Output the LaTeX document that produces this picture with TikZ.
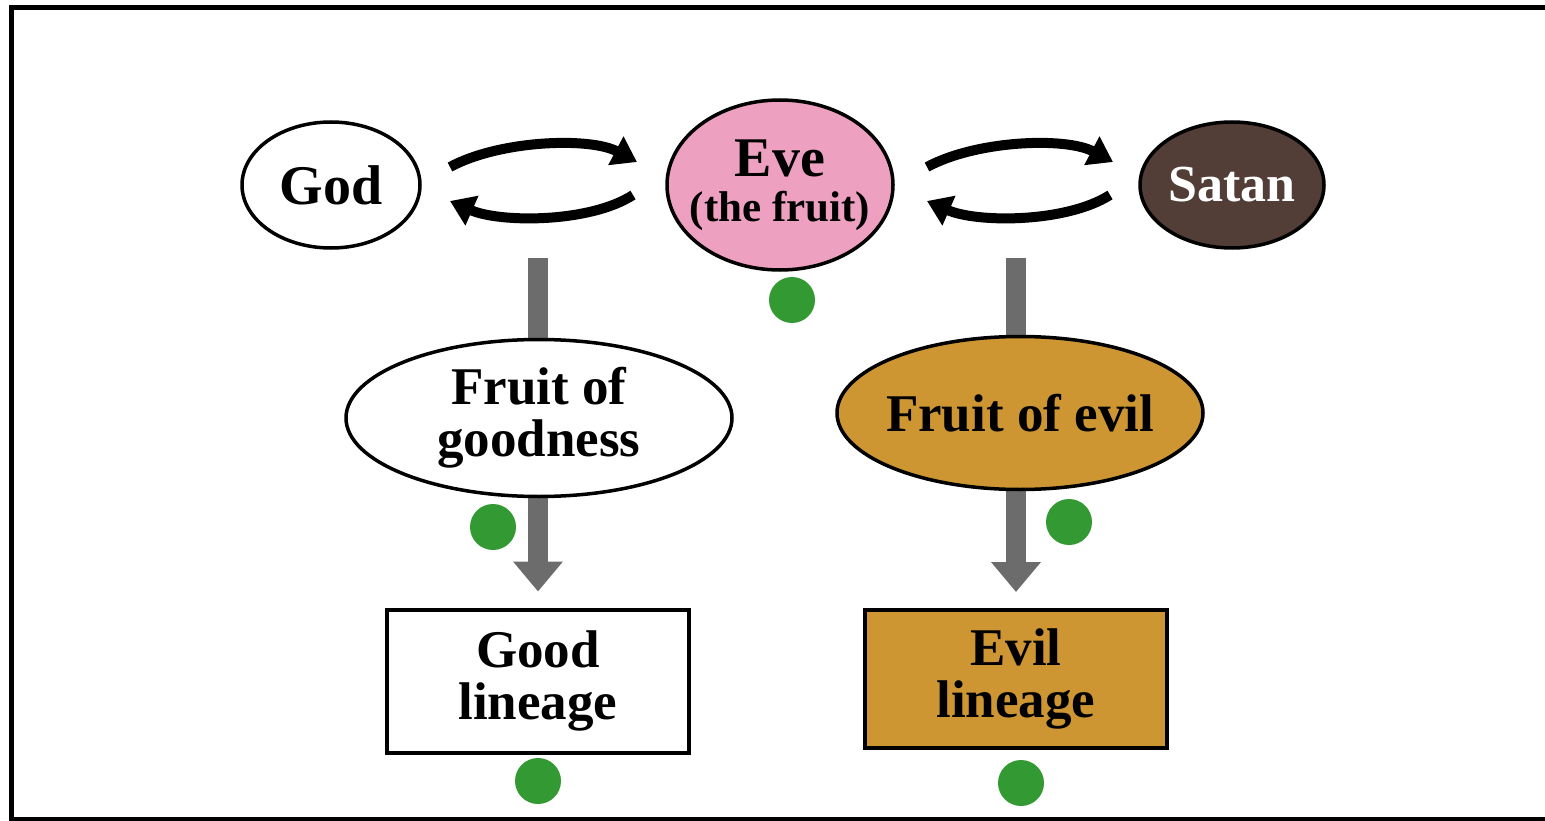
\documentclass[tikz,border=0pt]{standalone}
\usepackage{fontspec}
\setmainfont{Liberation Serif}
\usetikzlibrary{arrows.meta,shapes.geometric,backgrounds}
\definecolor{evepink}{RGB}{238,160,192}
\definecolor{satanbrown}{RGB}{82,62,55}
\definecolor{ochre}{RGB}{205,150,50}
\definecolor{dotgreen}{RGB}{51,153,51}
\definecolor{arrowgray}{RGB}{108,108,108}
\begin{document}
\begin{tikzpicture}[x=1pt,y=-1pt,
  oval/.style={ellipse, draw=black, line width=3.5pt, inner sep=0pt, align=center},
  boxnode/.style={rectangle, draw=black, line width=4pt, inner sep=0pt, align=center},
  bigtxt/.style={font=\bfseries\fontsize{53}{52}\selectfont},
  gdot/.style={circle, fill=dotgreen, draw=none, minimum size=46pt, inner sep=0pt},
  swap/.style={line width=10pt, -{Triangle[length=24pt,width=31pt]}},
  flow/.style={line width=20pt, draw=arrowgray, -{Triangle[length=30pt,width=48pt]}}
]
\useasboundingbox (0,0) rectangle (1545,821);
\begin{pgfonlayer}{background}
\fill[white] (0,0) rectangle (1545,821);
\end{pgfonlayer}
\draw[line width=5pt, line join=miter] (1545,7.5) -- (11.5,7.5) -- (11.5,819) -- (1545,819);

% top row
\node[oval, minimum width=178pt, minimum height=126pt, font=\bfseries\fontsize{56}{56}\selectfont] (god) at (331,185) {God};
\node[oval, fill=evepink, minimum width=226pt, minimum height=170pt,
  label={[align=center, inner sep=0pt, font=\bfseries\fontsize{56}{45}\selectfont]center:Eve\\{\fontsize{43}{45}\selectfont (the fruit)}}] (eve) at (780,185) {};
\node[oval, fill=satanbrown, text=white, minimum width=184pt, minimum height=126pt, font=\bfseries\fontsize{52}{52}\selectfont] (satan) at (1232,185) {Satan};

% middle row
\node[oval, fill=white, minimum width=386pt, minimum height=157pt, bigtxt] (fgood) at (539,418) {Fruit of\\goodness};
\node[oval, fill=ochre, minimum width=366pt, minimum height=153pt,
  label={[inner sep=0pt, bigtxt]center:Fruit of evil}] (fevil) at (1020,413) {};

% bottom row
\node[boxnode, fill=white, minimum width=302pt, minimum height=143pt, bigtxt] (glin) at (538,681) {Good\\lineage};
\node[boxnode, fill=ochre, minimum width=302pt, minimum height=138pt, bigtxt] (elin) at (1016,679) {Evil\\lineage};

% green dots
\node[gdot] (d1) at (792,300) {};
\node[gdot] (d2) at (493,527) {};
\node[gdot] (d3) at (1069,522) {};
\node[gdot] (d4) at (538,781) {};
\node[gdot] (d5) at (1021,783) {};

% swap arrows
\coordinate (ge1) at (450,167);
\coordinate (ge2) at (637,162);
\coordinate (eg1) at (633,195);
\coordinate (eg2) at (450,201);
\coordinate (es1) at (927,167);
\coordinate (es2) at (1113,162);
\coordinate (se1) at (1110,195);
\coordinate (se2) at (927,201);
\draw[swap] (ge1) .. controls (500,140) and (590,137) .. (ge2);
\draw[swap] (eg1) .. controls (590,223) and (500,223) .. (eg2);
\draw[swap] (es1) .. controls (977,140) and (1066,137) .. (es2);
\draw[swap] (se1) .. controls (1066,223) and (977,223) .. (se2);

% gray flow arrows (behind the ovals)
\coordinate (gs) at (538,258);
\coordinate (ss) at (1016,258);
\begin{pgfonlayer}{background}
\draw[flow, shorten >=16pt] (gs) -- (glin.north);
\draw[flow, shorten >=16pt] (ss) -- (elin.north);
\end{pgfonlayer}
\end{tikzpicture}
\end{document}
